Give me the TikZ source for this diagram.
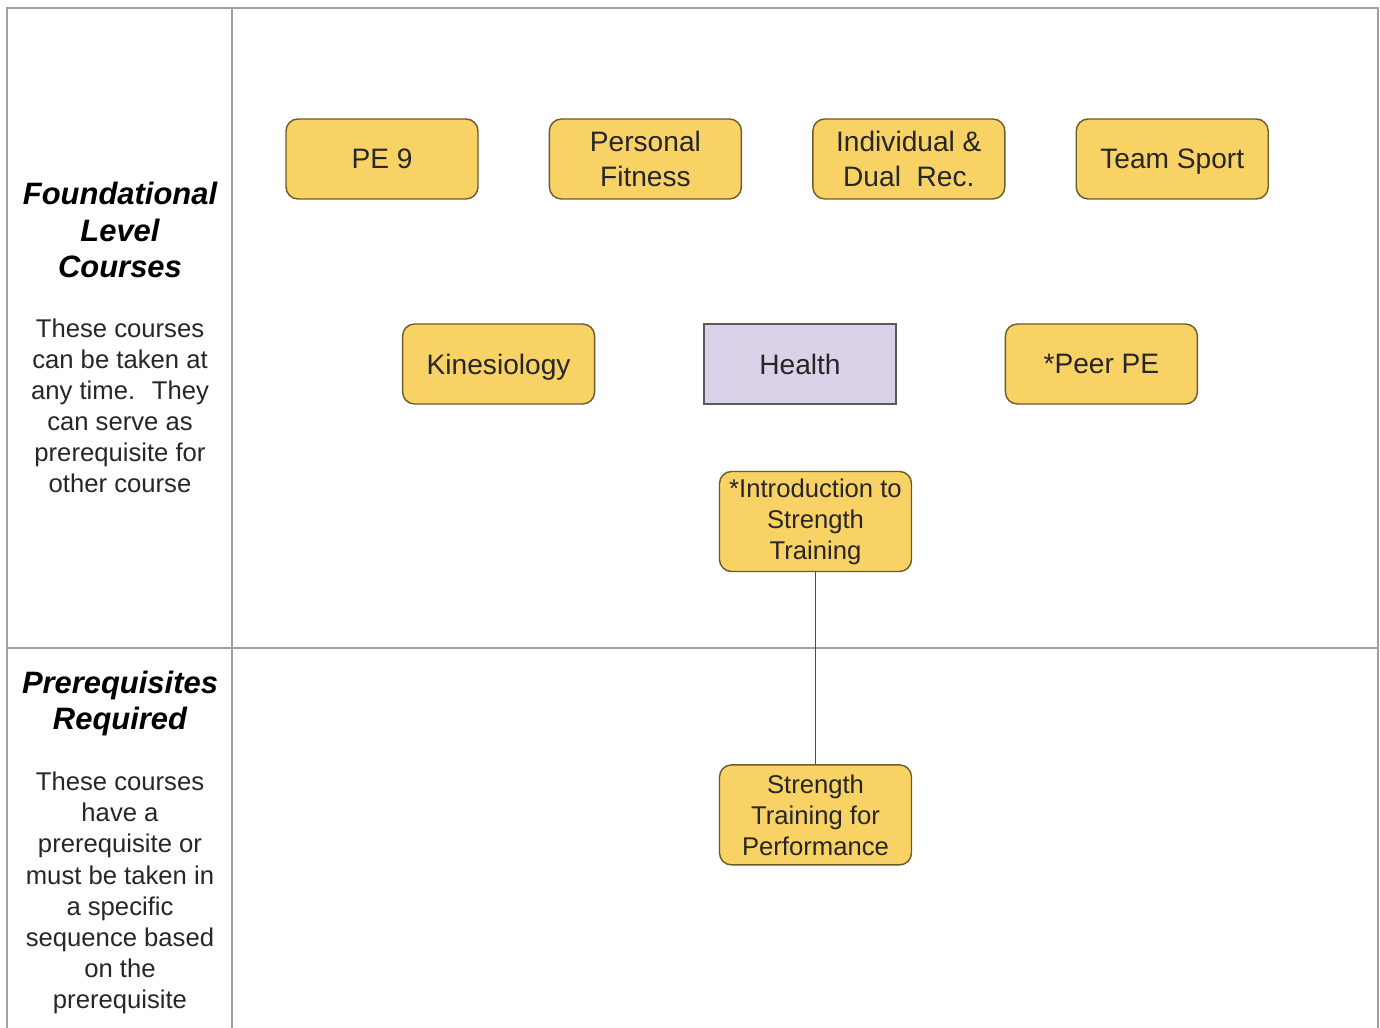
\documentclass[tikz,border=0pt]{standalone}
\usepackage{fontspec}
\setmainfont{Liberation Sans}
\usepackage{xcolor}
\usetikzlibrary{positioning}

\definecolor{courseyellow}{HTML}{F9D266}
\definecolor{courseborder}{HTML}{6B5A2A}
\definecolor{healthlilac}{HTML}{D9D2E9}
\definecolor{gridgray}{HTML}{A0A0A0}

\begin{document}
\begin{tikzpicture}[
        node distance=1.4cm,
        course/.style={rectangle, draw=courseborder, line width=0.8pt, fill=courseyellow, text=black!85, align=center, rounded corners=0.24cm, minimum width=3.84cm, minimum height=1.6cm, inner sep=2pt, font=\fontsize{16}{19.8}\selectfont},
        smallcourse/.style={course, minimum height=2cm, font=\fontsize{14.6}{17.6}\selectfont},
        healthbox/.style={rectangle, draw=black!65, line width=0.8pt, fill=healthlilac, text=black!85, align=center, minimum width=3.84cm, minimum height=1.6cm, font=\fontsize{16}{19.8}\selectfont},
        heading/.style={align=center, font=\fontsize{17.6}{21}\selectfont\bfseries\itshape},
        note/.style={align=center, text=black!85, font=\fontsize{14.6}{17.7}\selectfont},
        grid/.style={draw=gridgray, line width=1.1pt},
        link/.style={draw=black!70, line width=1pt}
    ]
        \useasboundingbox (0,0) rectangle (27.6,-20.56);

        % Frame
        \draw[grid] (0.14,-20.6) -- (0.14,-0.16) -- (27.56,-0.16) -- (27.56,-20.6);
        \draw[grid] (4.64,-0.16) -- (4.64,-20.6);
        \draw[grid] (0.14,-12.96) -- (27.56,-12.96);

        % Row labels
        \node[heading] (foundhead) at (2.4,-4.6) {Foundational\\Level\\Courses};
        \node[note] (foundnote) at (2.4,-8.12) {These courses\\can be taken at\\any time.~ They\\can serve as\\prerequisite for\\other course};
        \node[heading] (prereqhead) at (2.4,-14.07) {Prerequisites\\Required};
        \node[note] (prereqnote) at (2.4,-17.86) {These courses\\have a\\prerequisite or\\must be taken in\\a specific\\sequence based\\on the\\prerequisite};

        % Nodes
        \node[course] (pe9) at (7.64,-3.18) {PE 9};
        \node[course, right=of pe9] (fitness) {Personal\\Fitness};
        \node[course, right=of fitness] (dualrec) {Individual \&\\Dual~ Rec.};
        \node[course, text depth=0pt, right=of dualrec] (teamsport) {Team Sport};
        \node[healthbox] (health) at (16,-7.28) {Health};
        \node[course, text depth=0pt, left=2.16cm of health] (kines) {Kinesiology};
        \node[course, right=2.16cm of health] (peerpe) {*Peer PE};
        \node[smallcourse] (introst) at (16.31,-10.43) {*Introduction to\\Strength\\Training};
        \node[smallcourse, below=3.84cm of introst] (stperf) {Strength\\Training for\\Performance};

        % Arrows
        \draw[link] (introst) -- (stperf);

    \end{tikzpicture}
\end{document}
